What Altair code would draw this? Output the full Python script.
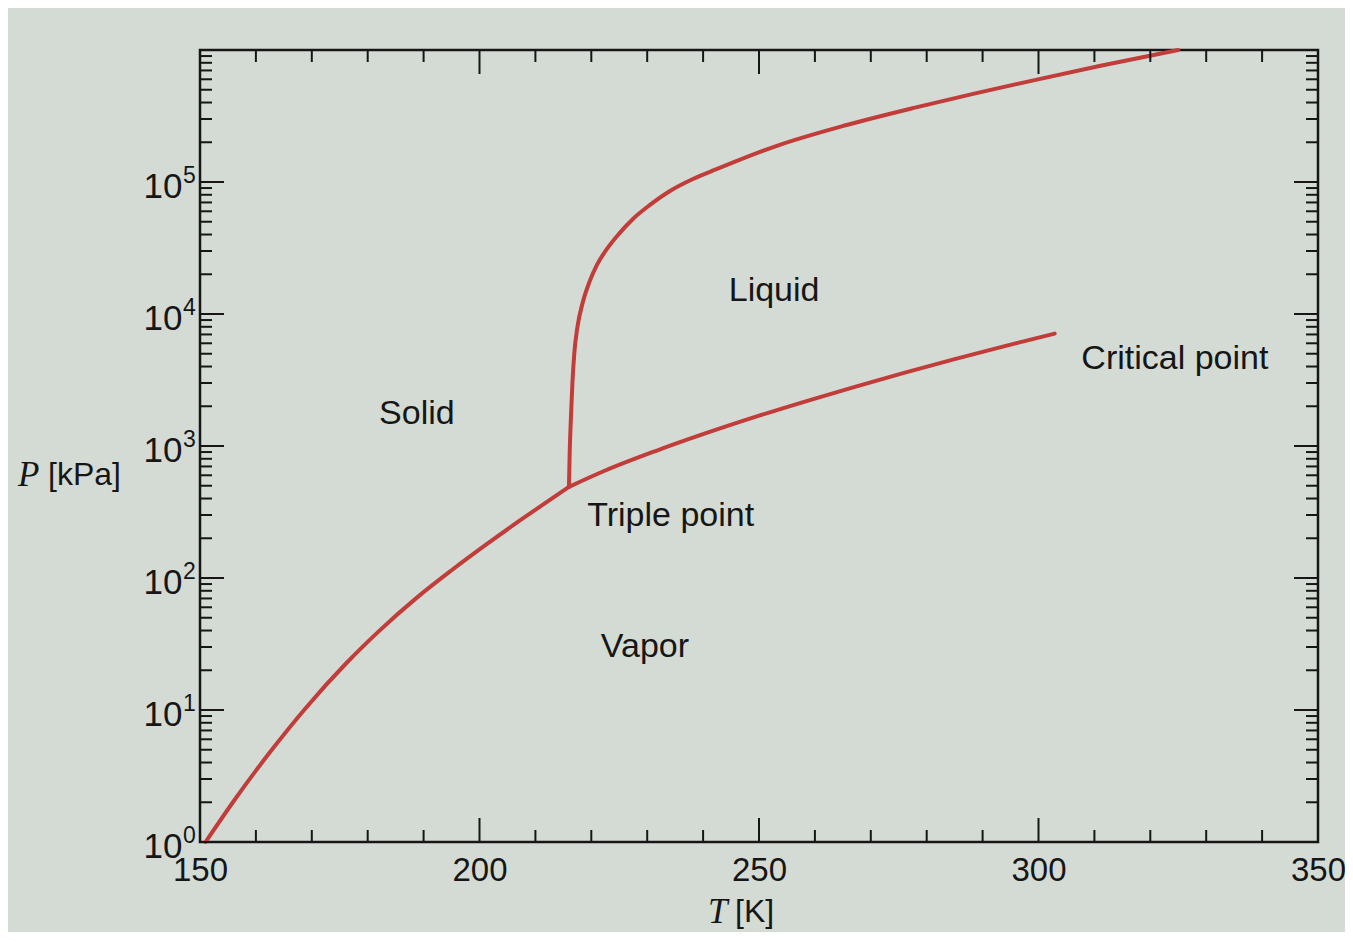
import altair as alt
import pandas as pd

# ---- data (T in K, P in kPa) ----
sub_T = [151.0, 156.2, 162.5, 168.7, 176.2, 182.4, 188.8, 194.9, 201.1, 207.3, 212.0, 216.0]
sub_P = [1.0, 2.09, 4.78, 10.1, 22.7, 41.0, 71.0, 113.5, 178, 274, 376, 490]

vap_T = [216.0, 222.4, 231.5, 240.5, 249.6, 258.5, 267.3, 276.1, 285.0, 293.8, 302.9]
vap_P = [490, 649, 916, 1250, 1675, 2190, 2820, 3600, 4550, 5690, 7100]

melt_T = [216.0, 216.14, 216.36, 216.63, 216.98, 217.52, 218.50, 219.67, 221.01, 222.80,
          224.94, 227.45, 230.49, 234.07, 238.18, 242.4, 253.2, 265.5, 277.9, 288.5,
          299.1, 311.1, 325.0]
melt_P = [490, 902, 1660, 3055, 5160, 7980, 12360, 17500, 23550, 31100,
          40450, 52500, 67000, 85500, 105400, 125000, 188000, 269000, 366000, 467000,
          589000, 759000, 1000000]

region_text = ["Solid", "Liquid", "Triple point", "Vapor", "Critical point"]
region_T = [188.8, 252.7, 234.2, 229.6, 324.4]
region_P = [1740, 15000, 294, 29.9, 4590]

x_label_values = [150, 200, 250, 300, 350]
x_major_ticks = [200, 250, 300]
x_minor_ticks = [160, 170, 180, 190, 210, 220, 230, 240, 260, 270, 280, 290, 310, 320, 330, 340]

y_label_values = [1, 10, 100, 1000, 10000, 100000]
y_label_exponents = ["0", "1", "2", "3", "4", "5"]
y_major_ticks = [1, 10, 100, 1000, 10000, 100000, 1000000]
y_minor_ticks = [m * d for d in y_label_values for m in range(2, 10)]

# ---- tables ----
rows = []
for name, Ts, Ps in [("sublimation", sub_T, sub_P),
                     ("vaporization", vap_T, vap_P),
                     ("melting", melt_T, melt_P)]:
    for i, (t, p) in enumerate(zip(Ts, Ps)):
        rows.append({"curve": name, "T": t, "P": p, "i": i})
curves = pd.DataFrame(rows)
labels = pd.DataFrame({"T": region_T, "P": region_P, "text": region_text})
exps = pd.DataFrame({"P": y_label_values, "e": y_label_exponents})

W, H = 1118, 792
FONT = "Liberation Sans"
INK = "#161616"
RED = "#c23c3a"
BG = "#d4dbd5"

xscale = alt.Scale(domain=[150, 350], nice=False, zero=False)
yscale = alt.Scale(type="log", domain=[1, 1000000], nice=False)

x_axis = alt.Axis(values=x_label_values, ticks=False, domain=False, grid=False,
                  labelFont=FONT, labelFontSize=33, labelColor=INK,
                  labelPadding=12, labelFlush=False, title=None)
y_axis = alt.Axis(values=y_label_values, labelExpr="'10'", ticks=False,
                  domain=False, grid=False, labelFont=FONT, labelFontSize=35,
                  labelColor=INK, labelPadding=18, labelOffset=4,
                  labelFlush=False, title=None)


def X(field="T"):
    return alt.X(f"{field}:Q", scale=xscale, axis=x_axis, title=None)


def Y(field="P"):
    return alt.Y(f"{field}:Q", scale=yscale, axis=y_axis, title=None)


lines = alt.Chart(curves).mark_line(
    color=RED, strokeWidth=4, interpolate="monotone", strokeCap="round"
).encode(x=X(), y=Y(), detail="curve:N", order="i:Q")


def xticks(vals, length, top):
    ch = alt.Chart(pd.DataFrame({"T": vals})).mark_rule(color=INK, strokeWidth=2)
    if top:
        return ch.encode(x=X(), y=alt.value(0), y2=alt.value(length))
    return ch.encode(x=X(), y=alt.value(H), y2=alt.value(H - length))


def yticks(vals, length, right):
    ch = alt.Chart(pd.DataFrame({"P": vals})).mark_rule(color=INK, strokeWidth=2)
    if right:
        return ch.encode(y=Y(), x=alt.value(W), x2=alt.value(W - length))
    return ch.encode(y=Y(), x=alt.value(0), x2=alt.value(length))


tick_layers = [
    xticks(x_minor_ticks, 12, False), xticks(x_major_ticks, 24, False),
    xticks(x_minor_ticks, 12, True), xticks(x_major_ticks, 24, True),
    yticks(y_minor_ticks, 12, False), yticks(y_major_ticks, 24, False),
    yticks(y_minor_ticks, 12, True), yticks(y_major_ticks, 24, True),
]

exponents = alt.Chart(exps).mark_text(
    font=FONT, fontSize=23, color=INK, align="left", baseline="middle", dy=-6
).encode(y=Y(), x=alt.value(-17), text="e:N")

region_labels = alt.Chart(labels).mark_text(
    font=FONT, fontSize=34, color=INK, align="center", baseline="middle"
).encode(x=X(), y=Y(), text="text:N")

one = alt.Data(values=[{}])


def title_text(txt, x, y, serif):
    return alt.Chart(one).mark_text(
        font="Liberation Serif" if serif else FONT,
        fontStyle="italic" if serif else "normal",
        fontSize=35 if serif else 32,
        color=INK, align="left", baseline="middle",
    ).encode(x=alt.value(x), y=alt.value(y), text=alt.value(txt))


titles = [
    title_text("P", -182, 425, True),
    title_text("[kPa]", -152, 425, False),
    title_text("T", 508, 862, True),
    title_text("[K]", 535, 862, False),
]

chart = alt.layer(lines, *tick_layers, exponents, region_labels, *titles).properties(
    width=W, height=H, background=BG,
    padding={"left": 192, "top": 42, "right": 27, "bottom": 90},
    autosize=alt.AutoSizeParams(type="none"),
).configure_view(stroke=INK, strokeWidth=2.5)

chart.save("out.html", embed_options={"renderer": "svg", "actions": False})
